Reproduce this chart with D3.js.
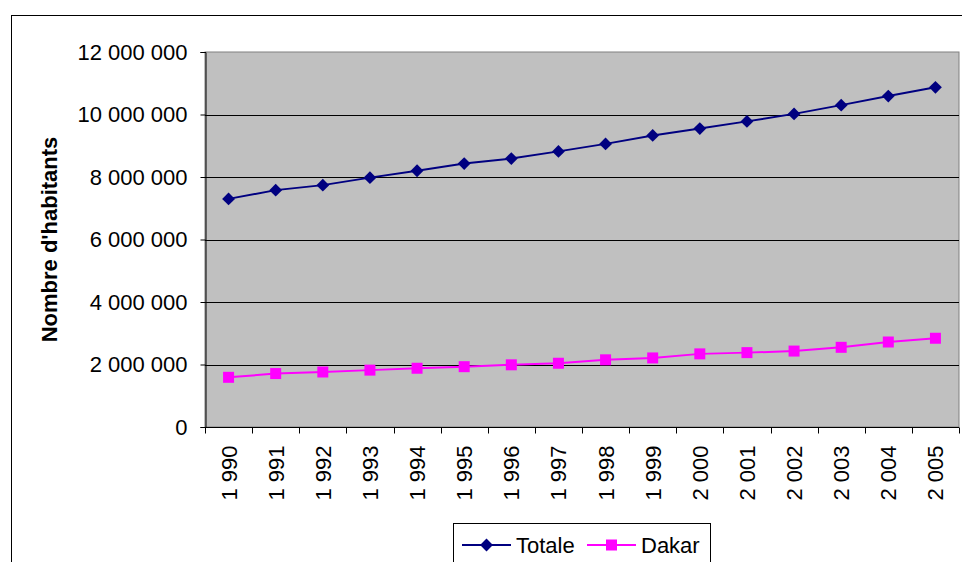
<!DOCTYPE html>
<html>
<head>
<meta charset="utf-8">
<script src="https://cdn.jsdelivr.net/npm/d3@7"></script>
<style>
  html, body { margin: 0; padding: 0; background: #fff; }
  svg { display: block; font-family: "Liberation Sans", Arial, sans-serif; }
</style>
</head>
<body>
<svg id="chart" width="962" height="562"></svg>
<script>
// Population (nombre d'habitants), 1990–2005
const years = [1990, 1991, 1992, 1993, 1994, 1995, 1996, 1997,
               1998, 1999, 2000, 2001, 2002, 2003, 2004, 2005];
const totale = [7300000, 7580000, 7740000, 7980000, 8200000, 8430000, 8590000, 8820000,
                9060000, 9330000, 9550000, 9780000, 10020000, 10300000, 10590000, 10870000];
const dakar = [1590000, 1710000, 1760000, 1820000, 1880000, 1930000, 1990000, 2040000,
               2150000, 2210000, 2340000, 2380000, 2430000, 2550000, 2720000, 2840000];
const yTicks = [0, 2000000, 4000000, 6000000, 8000000, 10000000, 12000000];
const seriesNames = ["Totale", "Dakar"];

const locale = d3.formatLocale({ decimal: ",", thousands: " ", grouping: [3], currency: ["", ""] });
const fmt = locale.format(",d");

const svg = d3.select("#chart");
const plot = { left: 205, top: 52, right: 959, bottom: 427 };

// outer chart frame
svg.append("rect")
  .attr("x", 11.5).attr("y", 15.5)
  .attr("width", 1000).attr("height", 600)
  .attr("fill", "#fff").attr("stroke", "#000").attr("stroke-width", 1);

const x = d3.scaleBand().domain(years).range([plot.left, plot.right]).padding(0);
const y = d3.scaleLinear().domain([0, 12000000]).range([plot.bottom, plot.top]);

// plot area
svg.append("rect")
  .attr("x", plot.left).attr("y", plot.top)
  .attr("width", plot.right - plot.left).attr("height", plot.bottom - plot.top)
  .attr("fill", "#c0c0c0").attr("stroke", "#808080").attr("stroke-width", 1);

// horizontal gridlines
svg.append("g").selectAll("line")
  .data(yTicks.filter(d => d > 0 && d < 12000000))
  .join("line")
  .attr("x1", plot.left).attr("x2", plot.right)
  .attr("y1", d => Math.round(y(d)) + 0.5).attr("y2", d => Math.round(y(d)) + 0.5)
  .attr("stroke", "#000").attr("stroke-width", 1);

// y axis
const yAxis = svg.append("g")
  .attr("transform", `translate(${plot.left + 0.5},0)`)
  .call(d3.axisLeft(y).tickValues(yTicks).tickFormat(fmt).tickSize(5).tickPadding(13));
yAxis.select(".domain").attr("stroke", "#000");
yAxis.selectAll(".tick line").attr("stroke", "#000");
yAxis.selectAll("text")
  .attr("font-size", 22).attr("fill", "#000")
  .attr("font-family", "Liberation Sans, Arial, sans-serif");

// x axis: ticks on category boundaries, labels rotated
const xAxisG = svg.append("g").attr("transform", `translate(0,${plot.bottom + 0.5})`);
xAxisG.append("line")
  .attr("x1", plot.left).attr("x2", plot.right)
  .attr("stroke", "#000");
const bounds = years.map(d => x(d)).concat([x(years[years.length - 1]) + x.bandwidth()]);
xAxisG.selectAll("line.tk").data(bounds).join("line")
  .attr("class", "tk")
  .attr("x1", d => Math.round(d) + 0.5).attr("x2", d => Math.round(d) + 0.5)
  .attr("y1", 0).attr("y2", 6)
  .attr("stroke", "#000");
xAxisG.selectAll("text").data(years).join("text")
  .attr("transform", d => `translate(${x(d) + x.bandwidth() / 2 + 8},18) rotate(-90)`)
  .attr("text-anchor", "end")
  .attr("font-size", 22)
  .attr("fill", "#000")
  .text(d => fmt(d));

// y axis title
svg.append("text")
  .attr("transform", `translate(57,${(plot.top + plot.bottom) / 2}) rotate(-90)`)
  .attr("text-anchor", "middle")
  .attr("font-size", 22)
  .attr("font-weight", "bold")
  .attr("fill", "#000")
  .text("Nombre d'habitants");

const line = d3.line().x((d, i) => x(years[i]) + x.bandwidth() / 2).y(d => y(d));
const diamond = d3.symbol().type(d3.symbolDiamond2).size(105);
const colors = ["#000080", "#ff00ff"];
const sq = 11;

// Totale series
svg.append("path").datum(totale)
  .attr("d", line).attr("fill", "none")
  .attr("stroke", colors[0]).attr("stroke-width", 2);
svg.append("g").selectAll("path").data(totale).join("path")
  .attr("transform", (d, i) => `translate(${x(years[i]) + x.bandwidth() / 2},${y(d)})`)
  .attr("d", diamond)
  .attr("fill", colors[0]);

// Dakar series
svg.append("path").datum(dakar)
  .attr("d", line).attr("fill", "none")
  .attr("stroke", colors[1]).attr("stroke-width", 2);
svg.append("g").selectAll("rect").data(dakar).join("rect")
  .attr("x", (d, i) => x(years[i]) + x.bandwidth() / 2 - sq / 2)
  .attr("y", d => y(d) - sq / 2)
  .attr("width", sq).attr("height", sq)
  .attr("fill", colors[1]);

// legend
const legend = svg.append("g");
legend.append("rect")
  .attr("x", 453.5).attr("y", 523.5)
  .attr("width", 257).attr("height", 60)
  .attr("fill", "#fff").attr("stroke", "#000");
const items = [
  { name: seriesNames[0], color: colors[0], x0: 462, marker: "diamond" },
  { name: seriesNames[1], color: colors[1], x0: 587, marker: "square" }
];
const ly = 545;
items.forEach(it => {
  legend.append("line")
    .attr("x1", it.x0).attr("x2", it.x0 + 49)
    .attr("y1", ly).attr("y2", ly)
    .attr("stroke", it.color).attr("stroke-width", 2);
  if (it.marker === "diamond") {
    legend.append("path")
      .attr("transform", `translate(${it.x0 + 24.5},${ly})`)
      .attr("d", diamond).attr("fill", it.color);
  } else {
    legend.append("rect")
      .attr("x", it.x0 + 24.5 - sq / 2).attr("y", ly - sq / 2)
      .attr("width", sq).attr("height", sq)
      .attr("fill", it.color);
  }
  legend.append("text")
    .attr("x", it.x0 + 54).attr("y", ly + 8)
    .attr("font-size", 22).attr("fill", "#000")
    .text(it.name);
});
</script>
</body>
</html>
